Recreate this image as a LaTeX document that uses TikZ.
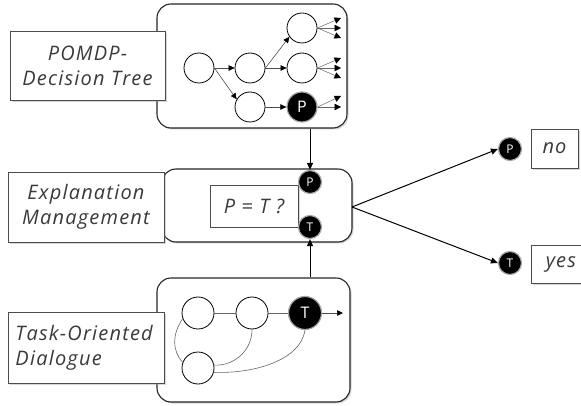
\documentclass[tikz,border=0pt]{standalone}
\usepackage{fontspec}
\setmainfont{Open Sans}
\setsansfont{Open Sans}
\newfontfamily\labelfont[LetterSpace=6]{Open Sans}
\usetikzlibrary{arrows.meta,shadows}
\definecolor{ink}{HTML}{3A3A3A}
\tikzset{
  panel/.style={draw=black!85, line width=1.1pt, rounded corners=14pt, fill=white,
    drop shadow={shadow xshift=1.5pt, shadow yshift=-1.5pt, fill=black!40, opacity=0.4}},
  labelbox/.style={draw=black!70, line width=0.7pt, fill=white, align=left,
    font=\labelfont\fontsize{20}{25}\selectfont\itshape, text=ink,
    drop shadow={shadow xshift=2pt, shadow yshift=-2pt, fill=black!40, opacity=0.4}},
  state/.style={circle, draw=black, line width=0.8pt, fill=white, minimum size=30pt, inner sep=0pt},
  token/.style={circle, fill=black, draw=black!35, line width=1.2pt, text=white,
    font=\sffamily\fontsize{12}{12}\selectfont, minimum size=23pt, inner sep=0pt},
  bigtoken/.style={token, minimum size=31pt, font=\sffamily\fontsize{16}{16}\selectfont},
  arr/.style={-{Triangle[length=6pt,width=5.5pt,color=black]}, draw=black!70, line width=0.6pt},
  tip/.style={-{Triangle[length=6.5pt,width=6.5pt,color=black]}, draw=black!60, line width=0.5pt},
  link/.style={draw=black!60, line width=0.6pt},
  flow/.style={-{Triangle[length=7pt,width=6pt]}, draw=black, line width=1pt},
}
\begin{document}
\begin{tikzpicture}[x=1pt,y=-1pt]
\useasboundingbox (0,0) rectangle (581,406);

% --- panels ---
\node[panel, minimum width=190pt, minimum height=124pt] (top) at (252,66) {};
\node[panel, minimum width=190pt, minimum height=73pt] (mid) at (257,205.5) {};
\node[panel, minimum width=193pt, minimum height=124pt] (bot) at (253.5,340) {};

% --- labels ---
\node[labelbox, minimum width=155pt, minimum height=69pt, align=center] (lt) at (87.5,65.5) {POMDP-\\Decision Tree};
\node[labelbox, minimum width=156pt, minimum height=70pt, align=center] (lm) at (86,207) {Explanation\\Management};
\node[labelbox, minimum width=156pt, minimum height=71pt, align=left, text width=141pt] (lb) at (86,347.5) {Task-Oriented\\Dialogue};

% --- decision tree ---
\node[state] (c1) at (199,68) {};
\node[state] (c2) at (250,68) {};
\node[state] (c3a) at (302,28) {};
\node[state] (c3b) at (302,68) {};
\node[state] (c4) at (250,107) {};
\node[bigtoken, minimum size=30pt] (tp) at (302,107) {P};
\draw[arr] (c1.east) -- (c2.west);
\draw[arr] (c1.east) -- (c4.150);
\draw[arr] (c2.east) -- (c3a.215);
\draw[arr] (c2.east) -- (c3b.west);
\draw[arr] (c4.east) -- (tp.west);
\coordinate (a1) at (341,18); \coordinate (a2) at (341,28); \coordinate (a3) at (341,38);
\coordinate (b1) at (341,58); \coordinate (b2) at (341,68); \coordinate (b3) at (341,78);
\coordinate (d1) at (341,96); \coordinate (d2) at (341,107);
\foreach \t in {a1,a2,a3} \draw[tip] (c3a.east) -- (\t);
\foreach \t in {b1,b2,b3} \draw[tip] (c3b.east) -- (\t);
\foreach \t in {d1,d2} \draw[tip] (tp.east) -- (\t);

% --- explanation management ---
\node[draw=black!70, line width=0.7pt, fill=white, minimum width=88pt, minimum height=42pt,
  font=\labelfont\fontsize{20}{24}\selectfont\itshape, text=ink, inner sep=0pt,
  drop shadow={shadow xshift=1.5pt, shadow yshift=-1.5pt, fill=black!40, opacity=0.4}] (test) at (254,206) {P = T ?};
\node[token] (mp) at (310,182) {P};
\node[token] (mt) at (310,227) {T};

% --- task-oriented dialogue ---
\node[state, minimum size=32pt] (s1) at (198,313) {};
\node[state, minimum size=32pt] (s2) at (252,313) {};
\node[bigtoken, minimum size=33pt] (st) at (305,313) {T};
\node[state, minimum size=32pt] (s3) at (198,368) {};
\coordinate (sout) at (343,313);
\draw[link] (s1) -- (s2);
\draw[link] (s2) -- (st);
\draw[arr] (st.east) -- (sout);
\draw[link] (s1.200) .. controls (172,335) and (172,350) .. (s3.160);
\draw[link] (s2.south) .. controls (252,350) and (235,366) .. (s3.10);
\draw[link] (st.south) .. controls (300,362) and (250,374) .. (s3.-15);

% --- flows between panels ---
\draw[flow] (top.south -| mp) -- (mp.north);
\draw[flow] (bot.north -| mt) -- (mt.south);

% --- outcomes ---
\coordinate (fork) at (352,207);
\node[token] (rp) at (510,149) {P};
\node[token] (rt) at (510,263) {T};
\node[labelbox, minimum width=47pt, minimum height=39pt, align=center, inner sep=0pt] (no) at (554.5,148.5) {no};
\node[labelbox, minimum width=54pt, minimum height=38pt, align=left, inner sep=0pt, anchor=west] (yes) at (531,264) {\hspace{5pt}yes};
\draw[flow] (fork) -- (rp.west);
\draw[flow] (fork) -- (rt.west);
\end{tikzpicture}
\end{document}
